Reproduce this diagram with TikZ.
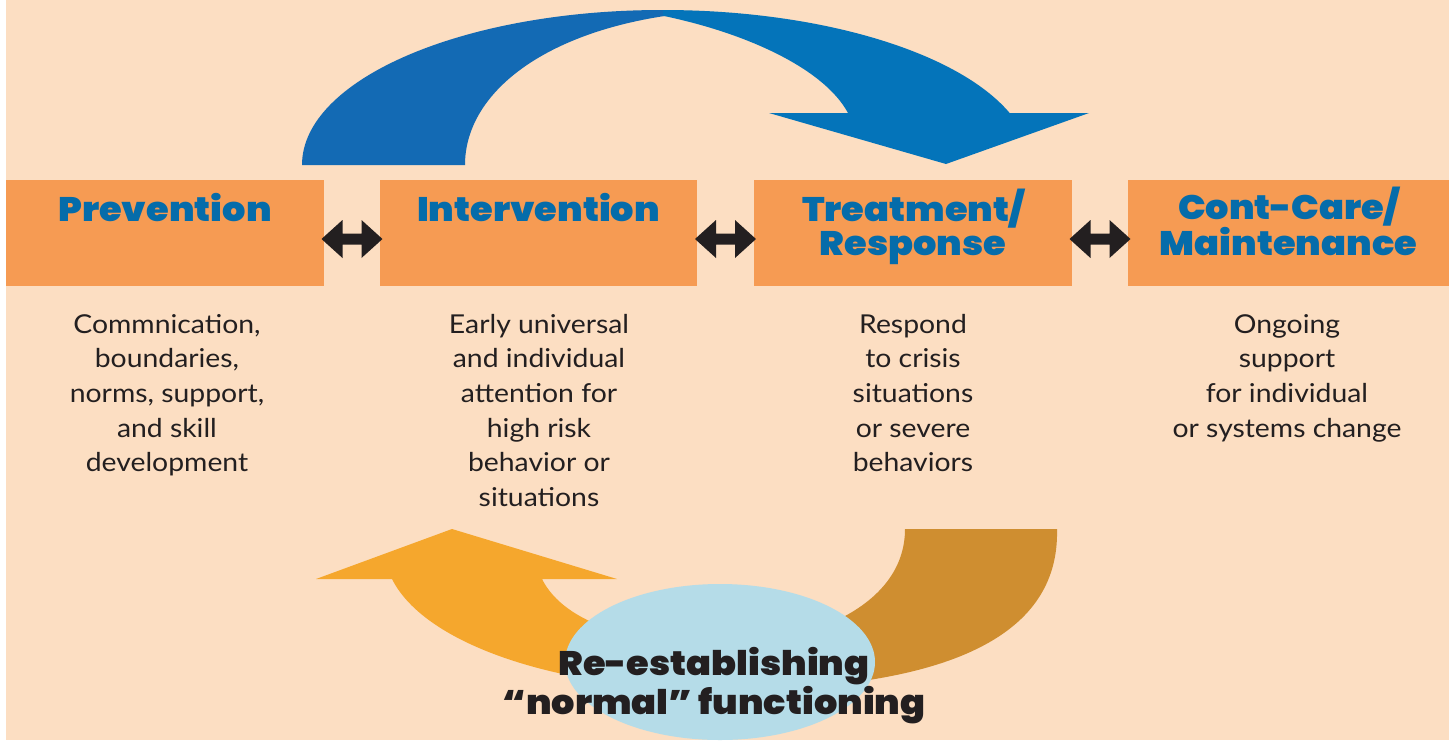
\documentclass[tikz,border=0pt]{standalone}
\usepackage{fontspec}
\setmainfont{Lato}
\newfontfamily\bodyfont{Lato}[FakeStretch=1.09]
\newfontfamily\headfont{Poppins Black}[FakeStretch=1.08]
\usetikzlibrary{calc}

\definecolor{peach}{RGB}{252,222,194}
\definecolor{boxorange}{RGB}{246,155,83}
\definecolor{titleblue}{RGB}{5,108,170}
\definecolor{arcblueL}{RGB}{19,106,180}
\definecolor{arcblueR}{RGB}{4,116,186}
\definecolor{arcorange}{RGB}{245,167,45}
\definecolor{arcbrown}{RGB}{207,142,48}
\definecolor{hubblue}{RGB}{181,220,232}
\definecolor{inkdark}{RGB}{35,31,32}

% multi-line nodes sit on the baseline of their last line
\tikzset{
  stagebox/.style={fill=boxorange, draw=none, minimum width=#1, minimum height=106pt, inner sep=0pt},
  stagetitle/.style={font=\headfont\fontsize{34}{34}\selectfont, text=titleblue, align=center, inner sep=0pt, anchor=base},
  stagetext/.style={font=\bodyfont\fontsize{26}{34.7}\selectfont, text=inkdark, align=center, inner sep=0pt, anchor=base},
  dblarr/.pic={\fill[inkdark] (-30.5,0) -- (-9.5,-19) -- (-9.5,-5.5) -- (9.5,-5.5) -- (9.5,-19) -- (30.5,0)
     -- (9.5,19) -- (9.5,5.5) -- (-9.5,5.5) -- (-9.5,19) -- cycle;}
}

\begin{document}
\begin{tikzpicture}[x=1pt,y=-1pt]
  % page and peach background
  \fill[white] (0,0) rectangle (1449,740);
  \fill[peach] (6,0) rectangle (1449,740);
  \useasboundingbox (0,0) rectangle (1449,740);

  % big blue arrow over the top
  \fill[arcblueL] (302,165) arc[start angle=180, end angle=90, x radius=360pt, y radius=155pt]
     -- (664.5,10) -- (664.5,16) .. controls (540,35) and (465,95) .. (465,165) -- cycle;
  \fill[arcblueR] (663,10) arc[start angle=90, end angle=19.6, x radius=368pt, y radius=155pt]
     -- (1089,113) -- (946,164) -- (769,113) -- (848,113)
     .. controls (825,70) and (750,34) .. (664,16) -- (663,16) -- cycle;

  % stage boxes
  \node[stagebox=318pt] (prev) at (165,233) {};
  \node[stagebox=317pt] (intv) at (538.5,233) {};
  \node[stagebox=318pt] (treat) at (913,233) {};
  \node[stagebox=321pt] (cont) at (1288.5,233) {};

  % two-way arrows between neighbouring stages
  \pic (a1) at ($(prev.east)!0.5!(intv.west)+(0,6)$) {dblarr};
  \pic (a2) at ($(intv.east)!0.5!(treat.west)+(0,6)$) {dblarr};
  \pic (a3) at ($(treat.east)!0.5!(cont.west)+(0,6)$) {dblarr};

  % stage titles
  \node[stagetitle] (prevT) at ($(prev.north)+(0,42)$) {Prevention};
  \node[stagetitle] (intvT) at ($(intv.north)+(0,42)$) {Intervention};
  \node[stagetitle] (treatT) at ($(treat.north)+(0,76)$) {Treatment/\\Response};
  \node[stagetitle] (contT) at ($(cont.north)+(0,76)$) {Cont-Care/\\Maintenance};

  % descriptions
  \node[stagetext] (prevD) at (167,471.8) {Commnication,\\boundaries,\\norms, support,\\and skill\\development};
  \node[stagetext] (intvD) at (539,506.5) {Early universal\\and individual\\attention for\\high risk\\behavior or\\situations};
  \node[stagetext] (treatD) at (913,471.8) {Respond\\to crisis\\situations\\or severe\\behaviors};
  \node[stagetext] (contD) at (1287,437.1) {Ongoing\\support\\for individual\\or systems change};

  % lower return arrow: orange half with head, brown half
  \fill[arcorange] (392,579) -- (316,579) -- (452,529) -- (617,579) -- (542,579)
     .. controls (565,625) and (640,645) .. (722,645) -- (722,690)
     .. controls (560,690) and (425,645) .. (392,579) -- cycle;
  \fill[arcbrown] (720,645) .. controls (800,645) and (905,610) .. (905,529)
     -- (1057,529) .. controls (1060,640) and (940,690) .. (720,690) -- cycle;

  % hub ellipse and its label
  \fill[hubblue] (720,662) ellipse[x radius=155pt, y radius=78pt];
  \node[font=\headfont\fontsize{34}{39}\selectfont, text=inkdark, align=center, inner sep=0pt, anchor=base]
     (hub) at (714,714) {Re-establishing\\“normal” functioning};
\end{tikzpicture}
\end{document}
